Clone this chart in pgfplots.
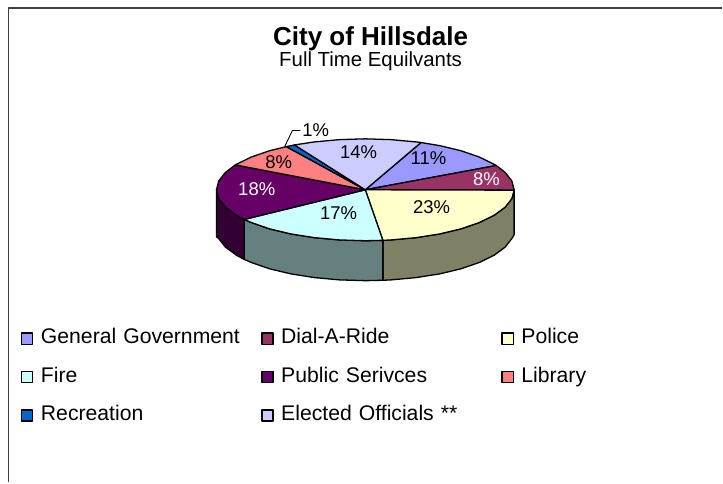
\documentclass[border=0pt]{standalone}
\usepackage{pgfplots}
\pgfplotsset{compat=1.18}
\usepackage{fontspec}
\setmainfont{Liberation Sans}
\definecolor{cGen}{HTML}{9999FF}
\definecolor{cDial}{HTML}{993366}
\definecolor{cPolice}{HTML}{FFFFCC}
\definecolor{cFire}{HTML}{CCFFFF}
\definecolor{cPublic}{HTML}{660066}
\definecolor{cLibrary}{HTML}{FF8080}
\definecolor{cRec}{HTML}{0066CC}
\definecolor{cElected}{HTML}{CCCCFF}
\definecolor{sPolice}{HTML}{808066}
\definecolor{sFire}{HTML}{668080}
\definecolor{sPublic}{HTML}{330033}
\definecolor{frameline}{HTML}{404040}
\newcommand{\lab}[1]{\fontsize{18.5}{20}\selectfont #1}
\begin{document}
\begin{tikzpicture}
\begin{axis}[
  at={(0pt,0pt)}, anchor=south west,
  width=723pt, height=483pt, scale only axis,
  xmin=0, xmax=723, ymin=0, ymax=483,
  hide axis, clip=false,
  legend columns=3,
  legend cell align=left,
  legend image code/.code={\draw[#1] (0pt,-5.6pt) rectangle (11.2pt,5.6pt);},
  legend style={
    overlay,
    draw=none, fill=none,
    at={(axis cs:21,154)}, anchor=north west,
    inner sep=0pt, outer sep=0pt,
    row sep=18.5pt,
    nodes={inner ysep=0pt, inner xsep=7.5pt, text width=213pt, align=left,
           text height=15pt, text depth=5pt,
           font=\fontsize{21.2}{24}\selectfont},
  },
  every axis plot/.append style={draw=black, line width=1.3pt, line join=round},
]
% side walls of the disc, front half only
\addplot[fill=sPolice, forget plot] coordinates {(514.7,292.6)(512.4,284.1)(505.7,275.6)(494.7,267.5)(479.8,260.2)(461.5,253.9)(440.2,248.8)(416.7,245.1)(391.6,242.8)(383.3,242.4)(383.3,202.4)(391.6,202.8)(416.7,205.1)(440.2,208.8)(461.5,213.9)(479.8,220.2)(494.7,227.5)(505.7,235.6)(512.4,244.1)(514.7,248)} --cycle;
\addplot[fill=sFire, forget plot] coordinates {(383.3,242.4)(365.7,242)(339.8,242.8)(314.7,245.1)(291.2,248.8)(269.9,253.9)(251.6,260.2)(244.5,263.3)(244.5,223.3)(251.6,220.2)(269.9,213.9)(291.2,208.8)(314.7,205.1)(339.8,202.8)(365.7,202)(383.3,202.4)} --cycle;
\addplot[fill=sPublic, forget plot] coordinates {(244.5,263.3)(236.7,267.5)(225.7,275.6)(219,284.1)(216.7,293)(216.7,246)(219,244.1)(225.7,235.6)(236.7,227.5)(244.5,223.3)} --cycle;
% top faces: shares 11, 8, 23, 17, 18, 8, 1, 14 percent
\addplot[fill=cGen] coordinates {(365.7,293)(421.5,340.3)(440.2,337.2)(461.5,332.1)(479.8,325.8)(494.7,318.5)(496.8,317.3)} --cycle;
\addlegendentry{General Government}
\addplot[fill=cDial] coordinates {(365.7,293)(496.8,317.3)(505.7,310.4)(512.4,301.9)(514.7,293)(514.7,292.6)} --cycle;
\addlegendentry{Dial-A-Ride}
\addplot[fill=cPolice] coordinates {(365.7,293)(514.7,292.6)(512.4,284.1)(505.7,275.6)(494.7,267.5)(479.8,260.2)(461.5,253.9)(440.2,248.8)(416.7,245.1)(391.6,242.8)(383.3,242.4)} --cycle;
\addlegendentry{Police}
\addplot[fill=cFire] coordinates {(365.7,293)(383.3,242.4)(365.7,242)(339.8,242.8)(314.7,245.1)(291.2,248.8)(269.9,253.9)(251.6,260.2)(244.5,263.3)} --cycle;
\addlegendentry{Fire}
\addplot[fill=cPublic] coordinates {(365.7,293)(244.5,263.3)(236.7,267.5)(225.7,275.6)(219,284.1)(216.7,293)(219,301.9)(225.7,310.4)(235.6,317.9)} --cycle;
\addlegendentry{Public Serivces}
\addplot[fill=cLibrary] coordinates {(365.7,293)(235.6,317.9)(236.7,318.5)(251.6,325.8)(269.9,332.1)(286.7,336.2)} --cycle;
\addlegendentry{Library}
\addplot[fill=cRec] coordinates {(365.7,293)(286.7,336.2)(294.8,337.9)} --cycle;
\addlegendentry{Recreation}
\addplot[fill=cElected] coordinates {(365.7,293)(294.8,337.9)(314.7,340.9)(339.8,343.2)(365.7,344)(391.6,343.2)(416.7,340.9)(421.5,340.3)} --cycle;
\addlegendentry{Elected Officials **}
% outer frame of the chart area
\addplot[draw=frameline, line width=1.6pt, forget plot] coordinates {(8.7,0)(8.7,475)(723,475)};
% leader line for the smallest slice
\addplot[draw=black, line width=0.9pt, forget plot] coordinates {(285,336.3)(292.7,352.3)(300.7,352.3)};
% percentage labels
\node at (axis cs:359,331) {\lab{14\%}};
\node at (axis cs:429,325) {\lab{11\%}};
\node[text=white] at (axis cs:487,304) {\lab{8\%}};
\node at (axis cs:432,276) {\lab{23\%}};
\node at (axis cs:339,270) {\lab{17\%}};
\node[text=white] at (axis cs:257,294) {\lab{18\%}};
\node at (axis cs:279,321) {\lab{8\%}};
\node at (axis cs:316,353) {\lab{1\%}};
% titles
\node at (axis cs:371,444.5) {\fontsize{26}{28}\selectfont\bfseries City of Hillsdale};
\node at (axis cs:371,421.5) {\fontsize{20.4}{24}\selectfont Full Time Equilvants};
\end{axis}
\useasboundingbox (0pt,0pt) rectangle (723pt,483pt);
\end{tikzpicture}
\end{document}
